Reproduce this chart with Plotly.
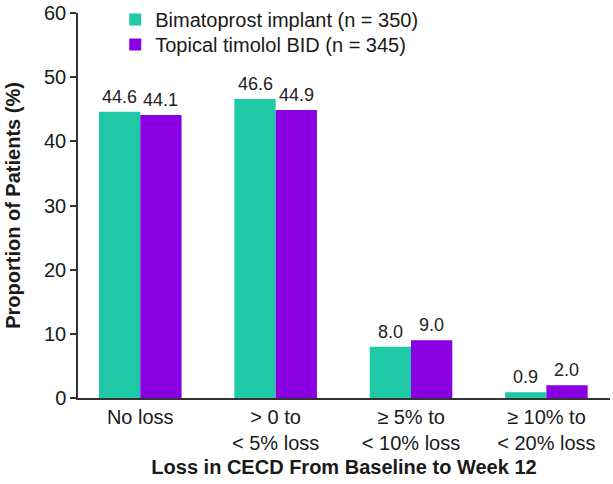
import plotly.graph_objects as go

categories = ["No loss", "> 0 to<br>< 5% loss", "≥ 5% to<br>< 10% loss", "≥ 10% to<br>< 20% loss"]
bimatoprost = [44.6, 46.6, 8.0, 0.9]
timolol = [44.1, 44.9, 9.0, 2.0]
series_names = ["Bimatoprost implant (n = 350)", "Topical timolol BID (n = 345)"]
colors = ["#1FC9A6", "#8B00E2"]

font_family = "Liberation Sans, Arial, sans-serif"

fig = go.Figure()
fig.add_trace(go.Bar(x=categories, y=bimatoprost, name=series_names[0], showlegend=True,
                     marker_color=colors[0], marker_line_width=0, legend="legend"))
fig.add_trace(go.Bar(x=categories, y=timolol, name=series_names[1], showlegend=True,
                     marker_color=colors[1], marker_line_width=0, legend="legend2"))

# value labels above the bars (offset half a bar to either side)
for vals, shift in [(bimatoprost, -20.5), (timolol, 20.5)]:
    for cat, v in zip(categories, vals):
        fig.add_annotation(x=cat, y=v, text=f"{v:.1f}", showarrow=False,
                           xshift=shift, yshift=3, yanchor="bottom",
                           font=dict(size=18, color="#222"))

legend_style = dict(x=0.07, xanchor="left", yanchor="top",
                    font=dict(size=20), itemwidth=30, bgcolor="rgba(0,0,0,0)")

fig.update_layout(
    width=613, height=484,
    margin=dict(l=78, r=3, t=0, b=86),
    plot_bgcolor="white", paper_bgcolor="white",
    font=dict(family=font_family, size=20, color="#1a1a1a"),
    barmode="group", bargap=0.39, bargroupgap=0,
    showlegend=True,
    legend=dict(y=1.0, **legend_style),
    legend2=dict(y=0.937, **legend_style),
    xaxis=dict(
        range=[-0.46, 3.47], showline=True, linecolor="#333", linewidth=1.5,
        ticks="", tickfont=dict(size=20), automargin=False,
        title=dict(text="<b>Loss in CECD From Baseline to Week 12</b>",
                   font=dict(size=20), standoff=7),
    ),
    yaxis=dict(
        domain=[0, 0.9673],
        range=[0, 60], dtick=10, showline=True, linecolor="#333", linewidth=1.5,
        ticks="outside", ticklen=6, tickcolor="#333", tickwidth=1.5,
        showgrid=False, zeroline=False, tickfont=dict(size=20), automargin=False,
        title=dict(text="<b>Proportion of Patients (%)</b>", font=dict(size=20), standoff=18),
    ),
)

fig.write_html("out.html", config={"displayModeBar": False},
               post_script="document.body.style.margin='0';")
